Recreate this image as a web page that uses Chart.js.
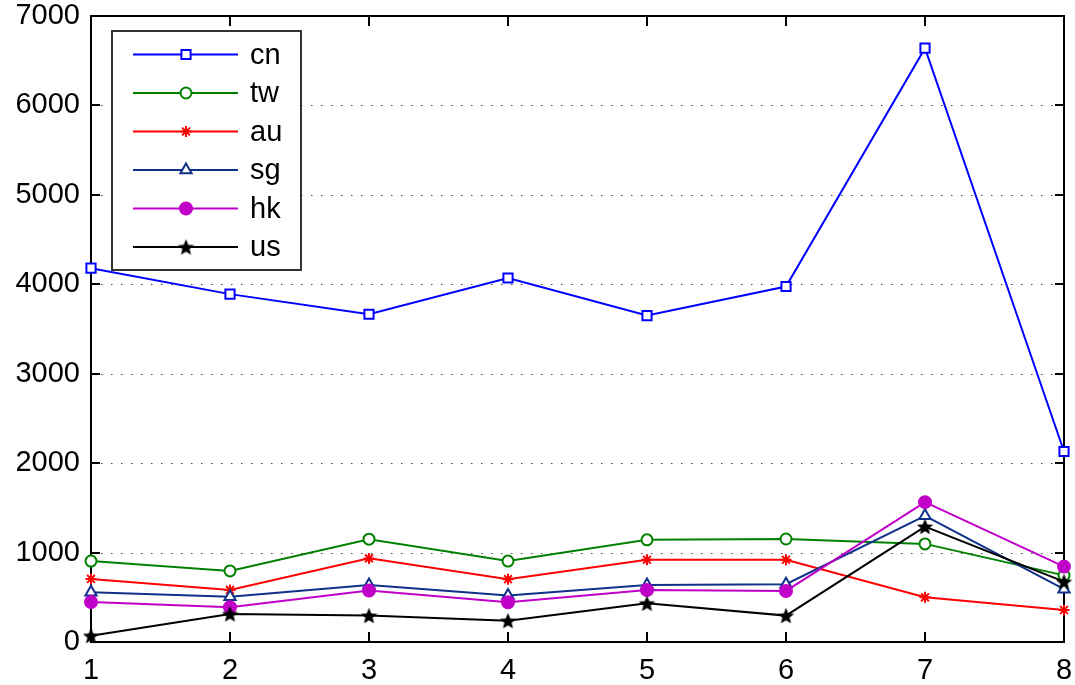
<!DOCTYPE html>
<html>
<head>
<meta charset="utf-8">
<script src="https://cdn.jsdelivr.net/npm/chart.js@4/dist/chart.umd.min.js"></script>
<style>
  html, body { margin: 0; padding: 0; background: #fff; }
  #wrap { width: 1075px; height: 685px; }
</style>
</head>
<body>
<div id="wrap"><canvas id="c" width="1075" height="685"></canvas></div>
<script>
const labels = ['1', '2', '3', '4', '5', '6', '7', '8'];
const yTicks = [0, 1000, 2000, 3000, 4000, 5000, 6000, 7000];

const cn = [4180, 3890, 3665, 4070, 3650, 3975, 6640, 2130];
const tw = [905, 795, 1150, 905, 1142, 1152, 1097, 745];
const au = [705, 582, 935, 702, 920, 920, 500, 358];
const sg = [556, 507, 638, 519, 638, 646, 1411, 590];
const hk = [448, 388, 575, 444, 582, 571, 1564, 843];
const us = [71, 314, 295, 239, 433, 295, 1291, 675];

const FONT = '"Liberation Sans", Arial, sans-serif';

// five-pointed star marker (MATLAB pentagram)
function pentagram(size) {
  const cv = document.createElement('canvas');
  cv.width = size; cv.height = size;
  const g = cv.getContext('2d');
  const cx = size / 2, cy = size / 2 + 0.8, R = size / 2 - 1.5, r = R * 0.45;
  g.beginPath();
  for (let i = 0; i < 10; i++) {
    const a = -Math.PI / 2 + i * Math.PI / 5;
    const rr = i % 2 === 0 ? R : r;
    g.lineTo(cx + rr * Math.cos(a), cy + rr * Math.sin(a));
  }
  g.closePath();
  g.fillStyle = '#000';
  g.fill();
  g.strokeStyle = '#000';
  g.lineWidth = 1.2;
  g.lineJoin = 'miter';
  g.stroke();
  return cv;
}
const starImg = pentagram(17);

const series = [
  { label: 'cn', data: cn, color: '#0000ff', style: 'rect', radius: 6.5, fill: '#fff' },
  { label: 'tw', data: tw, color: '#008000', style: 'circle', radius: 5.5, fill: '#fff' },
  { label: 'au', data: au, color: '#ff0000', style: 'star', radius: 5.5, fill: '#ff0000' },
  { label: 'sg', data: sg, color: '#10318a', style: 'triangle', radius: 6.5, fill: '#fff' },
  { label: 'hk', data: hk, color: '#c000c8', style: 'circle', radius: 6, fill: '#c000c8' },
  { label: 'us', data: us, color: '#000000', style: starImg, radius: 8, fill: '#000' }
];

// frame, dotted grid, inward ticks
const framePlugin = {
  id: 'frame',
  beforeDatasetsDraw(chart) {
    const { ctx, chartArea: a, scales } = chart;
    ctx.save();
    ctx.strokeStyle = '#444';
    ctx.lineWidth = 1;
    ctx.setLineDash([1.5, 8.5]);
    yTicks.forEach(v => {
      if (v === 0 || v === 7000) return;
      const y = Math.round(scales.y.getPixelForValue(v)) + 0.5;
      ctx.beginPath();
      ctx.moveTo(a.left, y);
      ctx.lineTo(a.right, y);
      ctx.stroke();
    });
    ctx.setLineDash([]);
    ctx.strokeStyle = '#000';
    ctx.lineWidth = 2;
    yTicks.forEach(v => {
      const y = Math.round(scales.y.getPixelForValue(v));
      ctx.beginPath();
      ctx.moveTo(a.left, y); ctx.lineTo(a.left + 9, y);
      ctx.moveTo(a.right, y); ctx.lineTo(a.right - 9, y);
      ctx.stroke();
    });
    labels.forEach((l, i) => {
      const x = Math.round(scales.x.getPixelForValue(i));
      ctx.beginPath();
      ctx.moveTo(x, a.bottom); ctx.lineTo(x, a.bottom - 10);
      ctx.moveTo(x, a.top); ctx.lineTo(x, a.top + 10);
      ctx.stroke();
    });
    ctx.strokeRect(a.left, a.top, a.right - a.left, a.bottom - a.top);
    ctx.restore();
  }
};

// legend box inside the axes, top left
const legendPlugin = {
  id: 'boxLegend',
  afterDatasetsDraw(chart) {
    const { ctx } = chart;
    const bx = 112, by = 31, bw = 189, bh = 239;
    ctx.save();
    ctx.fillStyle = '#fff';
    ctx.fillRect(bx, by, bw, bh);
    ctx.strokeStyle = '#333';
    ctx.lineWidth = 2;
    ctx.strokeRect(bx, by, bw, bh);
    chart.data.datasets.forEach((ds, i) => {
      const y = 54.5 + i * 38.5;
      ctx.strokeStyle = ds.borderColor;
      ctx.lineWidth = 2;
      ctx.beginPath();
      ctx.moveTo(133, y); ctx.lineTo(238, y);
      ctx.stroke();
      ctx.fillStyle = ds.pointBackgroundColor;
      ctx.strokeStyle = ds.borderColor;
      Chart.helpers.drawPoint(ctx, {
        pointStyle: ds.pointStyle, radius: ds.pointRadius, rotation: 0, borderWidth: 2
      }, 186, y);
      ctx.fillStyle = '#000';
      ctx.font = '29px ' + FONT;
      ctx.textBaseline = 'middle';
      ctx.textAlign = 'left';
      ctx.fillText(ds.label, 250, y + 1);
    });
    ctx.restore();
  }
};

new Chart(document.getElementById('c'), {
  type: 'line',
  data: {
    labels: labels,
    datasets: series.map((s, i) => ({
      label: s.label,
      data: s.data,
      borderColor: s.color,
      backgroundColor: s.color,
      pointBackgroundColor: s.fill,
      pointBorderColor: s.color,
      pointStyle: s.style,
      pointRadius: s.radius,
      pointBorderWidth: 2,
      borderWidth: 2,
      tension: 0,
      fill: false,
      clip: false,
      order: series.length - i
    }))
  },
  options: {
    responsive: false,
    animation: false,
    layout: { padding: { top: 16, right: 11, left: 0, bottom: 0 } },
    plugins: { legend: { display: false }, tooltip: { enabled: false } },
    scales: {
      x: {
        offset: false,
        grid: { display: false, drawTicks: false },
        border: { display: false },
        ticks: { color: '#000', font: { family: FONT, size: 29 }, padding: 12, maxRotation: 0 },
        afterFit(scale) {
          scale.height = 43;
          scale.paddingLeft = 0;
          scale.paddingRight = 0;
        }
      },
      y: {
        min: 0,
        max: 7000,
        grid: { display: false, drawTicks: false },
        border: { display: false },
        afterBuildTicks(scale) { scale.ticks = yTicks.map(v => ({ value: v })); },
        ticks: {
          color: '#000', font: { family: FONT, size: 29 }, padding: 11,
          callback: v => String(v)
        },
        afterFit(scale) {
          scale.width = 91;
          scale.paddingTop = 0;
          scale.paddingBottom = 0;
        }
      }
    }
  },
  plugins: [framePlugin, legendPlugin]
});
</script>
</body>
</html>
